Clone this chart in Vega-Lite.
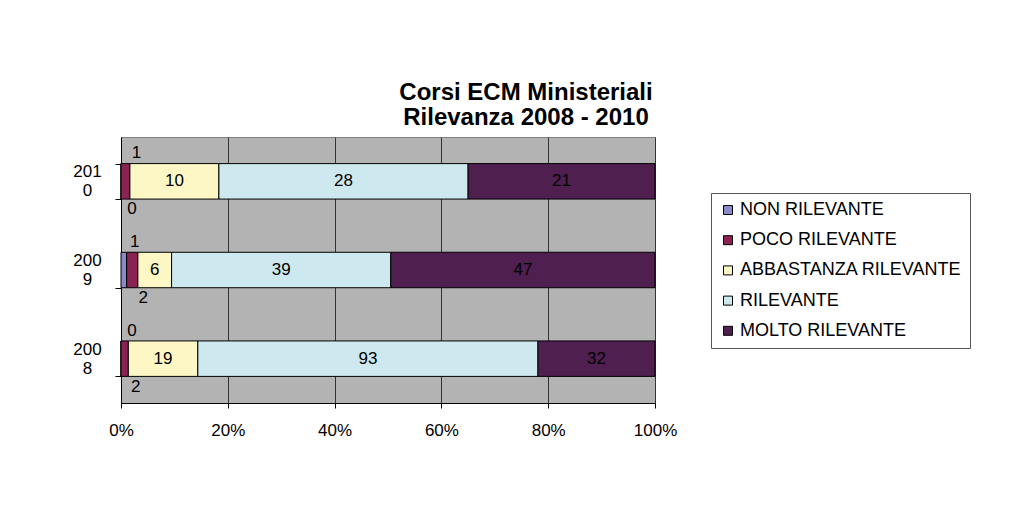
{
  "$schema": "https://vega.github.io/schema/vega-lite/v6.json",
  "autosize": {"type": "none"},
  "width": 534,
  "height": 266,
  "padding": {"left": 121, "top": 137, "right": 360, "bottom": 126},
  "background": "white",
  "title": {
    "text": ["Corsi ECM Ministeriali", "Rilevanza 2008 - 2010"],
    "font": "Liberation Sans",
    "fontSize": 24,
    "fontWeight": "bold",
    "color": "black",
    "lineHeight": 25,
    "anchor": "middle",
    "dx": 138,
    "offset": -2
  },
  "config": {
    "view": {"fill": "#b3b3b3", "stroke": "#808080", "strokeWidth": 1},
    "font": "Liberation Sans"
  },
  "data": {
    "values": [
      {"anno": "2010", "categoria": "NON RILEVANTE", "idx": 1, "valore": 0, "lato": "sotto"},
      {"anno": "2010", "categoria": "POCO RILEVANTE", "idx": 2, "valore": 1, "lato": "sopra"},
      {"anno": "2010", "categoria": "ABBASTANZA RILEVANTE", "idx": 3, "valore": 10, "lato": "dentro"},
      {"anno": "2010", "categoria": "RILEVANTE", "idx": 4, "valore": 28, "lato": "dentro"},
      {"anno": "2010", "categoria": "MOLTO RILEVANTE", "idx": 5, "valore": 21, "lato": "dentro"},
      {"anno": "2009", "categoria": "NON RILEVANTE", "idx": 1, "valore": 1, "lato": "sopra"},
      {"anno": "2009", "categoria": "POCO RILEVANTE", "idx": 2, "valore": 2, "lato": "sotto"},
      {"anno": "2009", "categoria": "ABBASTANZA RILEVANTE", "idx": 3, "valore": 6, "lato": "dentro"},
      {"anno": "2009", "categoria": "RILEVANTE", "idx": 4, "valore": 39, "lato": "dentro"},
      {"anno": "2009", "categoria": "MOLTO RILEVANTE", "idx": 5, "valore": 47, "lato": "dentro"},
      {"anno": "2008", "categoria": "NON RILEVANTE", "idx": 1, "valore": 0, "lato": "sopra"},
      {"anno": "2008", "categoria": "POCO RILEVANTE", "idx": 2, "valore": 2, "lato": "sotto"},
      {"anno": "2008", "categoria": "ABBASTANZA RILEVANTE", "idx": 3, "valore": 19, "lato": "dentro"},
      {"anno": "2008", "categoria": "RILEVANTE", "idx": 4, "valore": 93, "lato": "dentro"},
      {"anno": "2008", "categoria": "MOLTO RILEVANTE", "idx": 5, "valore": 32, "lato": "dentro"}
    ]
  },
  "transform": [
    {"stack": "valore", "groupby": ["anno"], "sort": [{"field": "idx", "order": "ascending"}], "offset": "normalize", "as": ["x0", "x1"]},
    {"calculate": "(datum.x0 + datum.x1) / 2", "as": "xm"}
  ],
  "encoding": {
    "y": {
      "field": "anno",
      "type": "nominal",
      "sort": ["2010", "2009", "2008"],
      "scale": {"paddingInner": 0.6, "paddingOuter": 0.3},
      "title": null,
      "axis": {
        "tickBand": "extent",
        "domainColor": "black",
        "tickColor": "black",
        "tickSize": 6,
        "labelExpr": "[slice(datum.label,0,3), slice(datum.label,3)]",
        "labelAlign": "center",
        "labelBaseline": "middle",
        "labelPadding": 28,
        "labelOffset": -9.5,
        "labelFontSize": 17,
        "labelLineHeight": 19,
        "labelColor": "black",
        "grid": false
      }
    }
  },
  "layer": [
    {
      "mark": {"type": "bar", "stroke": "black", "strokeWidth": 1},
      "encoding": {
        "x": {
          "field": "x0",
          "type": "quantitative",
          "scale": {"domain": [0, 1], "nice": false},
          "title": null,
          "axis": {
            "values": [0, 0.2, 0.4, 0.6, 0.8, 1],
            "format": ".0%",
            "grid": true,
            "gridColor": "#333333",
            "gridOpacity": 1,
            "domainColor": "black",
            "tickColor": "black",
            "tickSize": 5,
            "labelPadding": 14,
            "labelFontSize": 17,
            "labelColor": "black",
            "labelFlush": false
          }
        },
        "x2": {"field": "x1"},
        "color": {
          "field": "categoria",
          "type": "nominal",
          "scale": {
            "domain": ["NON RILEVANTE", "POCO RILEVANTE", "ABBASTANZA RILEVANTE", "RILEVANTE", "MOLTO RILEVANTE"],
            "range": ["#8a8ac8", "#8a2252", "#fdf7c6", "#cde8ef", "#4e1f4f"]
          },
          "legend": {
            "title": null,
            "orient": "none",
            "legendX": 590,
            "legendY": 56,
            "symbolType": "square",
            "symbolSize": 81,
            "symbolStrokeColor": "black",
            "symbolStrokeWidth": 1,
            "labelFontSize": 18,
            "labelLimit": 0,
            "labelColor": "black",
            "labelOffset": 3,
            "rowPadding": 12.2,
            "padding": 8,
            "strokeColor": "#555555",
            "fillColor": "white"
          }
        }
      }
    },
    {
      "transform": [{"filter": "datum.lato == 'dentro'"}],
      "mark": {"type": "text", "fontSize": 17, "color": "black", "baseline": "middle"},
      "encoding": {
        "x": {"field": "xm", "type": "quantitative"},
        "text": {"field": "valore", "type": "quantitative"}
      }
    },
    {
      "transform": [{"filter": "datum.lato == 'sopra'"}],
      "mark": {"type": "text", "fontSize": 17, "color": "black", "baseline": "middle", "dy": -28, "dx": 11},
      "encoding": {
        "x": {"field": "xm", "type": "quantitative"},
        "text": {"field": "valore", "type": "quantitative"}
      }
    },
    {
      "transform": [{"filter": "datum.lato == 'sotto'"}],
      "mark": {"type": "text", "fontSize": 17, "color": "black", "baseline": "middle", "dy": 28, "dx": 11},
      "encoding": {
        "x": {"field": "xm", "type": "quantitative"},
        "text": {"field": "valore", "type": "quantitative"}
      }
    }
  ]
}
